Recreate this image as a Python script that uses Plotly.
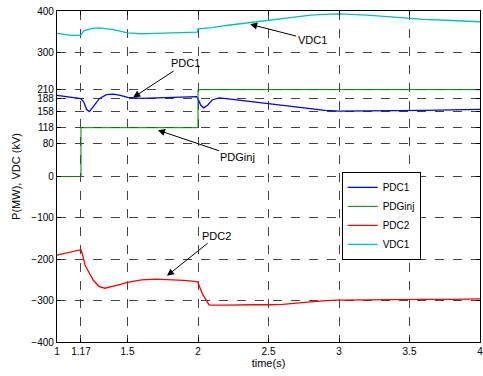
import plotly.graph_objects as go

# ---- data ----
t_vdc1 = [1.0, 1.05, 1.1, 1.15, 1.17, 1.19, 1.25, 1.3, 1.4, 1.5, 1.6, 1.7, 1.8, 1.9, 1.995,
          2.0, 2.1, 2.2, 2.3, 2.4, 2.5, 2.6, 2.7, 2.8, 2.9, 3.0, 3.2, 3.4, 3.6, 3.8, 4.0]
v_vdc1 = [346, 343, 341, 341, 342, 352, 358, 359, 355, 347, 345, 346, 347, 348, 349,
          357, 360, 365, 369, 373, 377, 381, 386, 390, 392, 393, 390, 385, 380, 377, 374]

t_pdc1 = [1.0, 1.05, 1.1, 1.17, 1.19, 1.21, 1.23, 1.26, 1.3, 1.35, 1.4, 1.45, 1.5, 1.6, 1.7,
          1.8, 1.9, 1.99, 2.0, 2.02, 2.04, 2.07, 2.1, 2.15, 2.2, 2.3, 2.4, 2.5, 2.6, 2.7,
          2.8, 2.9, 3.0, 3.2, 3.4, 3.6, 3.8, 4.0]
v_pdc1 = [196, 194, 192, 188, 180, 162, 157, 170, 188, 198, 199, 196, 191, 189, 190,
          191, 192, 193, 188, 172, 166, 173, 185, 190, 188, 184, 180, 176, 172, 167,
          163, 160, 158, 158, 159, 160, 161, 162]

t_pdg = [1.0, 1.17, 1.17, 2.0, 2.0, 4.0]
v_pdg = [0, 0, 118, 118, 210, 210]

t_pdc2 = [1.0, 1.05, 1.1, 1.17, 1.18, 1.2, 1.26, 1.3, 1.34, 1.4, 1.45, 1.5, 1.6, 1.7, 1.8,
          1.9, 1.99, 2.0, 2.03, 2.06, 2.08, 2.2, 2.3, 2.4, 2.5, 2.6, 2.7, 2.8, 2.9, 3.0,
          3.2, 3.4, 3.6, 3.8, 4.0]
v_pdc2 = [-190, -186, -182, -177, -188, -215, -252, -266, -270, -266, -261, -256, -250, -248, -249,
          -251, -254, -256, -283, -302, -311, -311, -310, -310, -310, -309, -306, -303, -300, -299,
          -298, -297, -297, -297, -296]

x_ticks = [1, 1.17, 1.5, 2, 2.5, 3, 3.5, 4]
x_tick_text = ["1", "1.17", "1.5", "2", "2.5", "3", "3.5", "4"]
y_ticks = [-400, -300, -200, -100, 0, 80, 118, 158, 188, 210, 300, 400]

FONT = "Liberation Sans, Arial, sans-serif"

fig = go.Figure()
fig.add_trace(go.Scatter(x=t_pdc1, y=v_pdc1, mode="lines", name="PDC1",
                         line=dict(color="#0000ff", width=1.3)))
fig.add_trace(go.Scatter(x=t_pdg, y=v_pdg, mode="lines", name="PDGinj",
                         line=dict(color="#008000", width=1)))
fig.add_trace(go.Scatter(x=t_pdc2, y=v_pdc2, mode="lines", name="PDC2",
                         line=dict(color="#ff0000", width=1.3)))
fig.add_trace(go.Scatter(x=t_vdc1, y=v_vdc1, mode="lines", name="VDC1",
                         line=dict(color="#00bfbf", width=1.3)))

arrow_style = dict(showarrow=True, arrowhead=2, arrowsize=1.4, arrowwidth=1,
                   arrowcolor="black", font=dict(family=FONT, size=11, color="black"),
                   xref="x", yref="y")
fig.add_annotation(x=2.37, y=368, text="VDC1", ax=62, ay=16, **arrow_style)
fig.add_annotation(x=1.54, y=191, text="PDC1", ax=52, ay=-34, **arrow_style)
fig.add_annotation(x=1.716, y=112, text="PDGinj", ax=80, ay=27, **arrow_style)
fig.add_annotation(x=1.78, y=-240, text="PDC2", ax=50, ay=-40, **arrow_style)

axis_common = dict(showline=True, linecolor="black", linewidth=1.2, mirror="ticks",
                   ticks="inside", ticklen=4, tickcolor="black",
                   showgrid=True, gridcolor="#444444", griddash="dash", gridwidth=1,
                   zeroline=False, ticklabeloverflow="allow",
                   tickfont=dict(family=FONT, size=10, color="black"))

fig.update_xaxes(range=[1, 4], tickvals=x_ticks, ticktext=x_tick_text,
                 title=dict(text="time(s)", font=dict(family=FONT, size=11, color="black"),
                            standoff=3), **axis_common)
fig.update_yaxes(range=[-400, 400], tickvals=y_ticks,
                 title=dict(text="P(MW), VDC (kV)", font=dict(family=FONT, size=11, color="black"),
                            standoff=8), **axis_common)

fig.update_layout(
    width=483, height=376,
    margin=dict(l=57, r=3, t=11, b=34, autoexpand=False),
    paper_bgcolor="white", plot_bgcolor="white",
    font=dict(family=FONT, size=11, color="black"),
    legend=dict(x=0.673, y=0.514, xanchor="left", yanchor="top",
                bgcolor="white", bordercolor="black", borderwidth=1,
                font=dict(family=FONT, size=10, color="black"),
                itemwidth=30, tracegroupgap=0),
    showlegend=True,
)

fig.write_html("out.html", config={"displayModeBar": False},
               post_script="document.body.style.margin='0';document.body.style.padding='0';")
